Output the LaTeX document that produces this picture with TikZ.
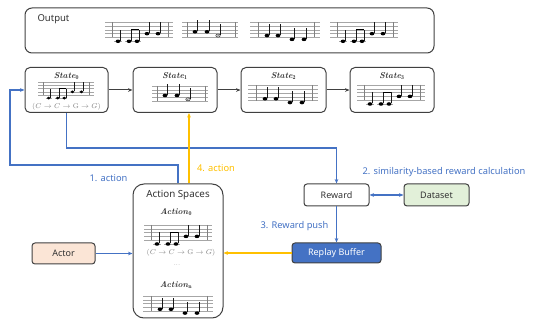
\documentclass[tikz,border=0pt]{standalone}
\usepackage{fontspec}
\setsansfont{Noto Sans}
\usetikzlibrary{arrows.meta,calc}
\definecolor{bl}{HTML}{4472C4}
\definecolor{yl}{HTML}{FFC000}
\definecolor{dk}{HTML}{404040}
\definecolor{txt}{HTML}{333333}
\definecolor{peach}{HTML}{FBE5D6}
\definecolor{lgreen}{HTML}{E2F0D9}
\definecolor{rbfill}{HTML}{4472C4}
\tikzset{
 box/.style={draw=dk, line width=1pt, rounded corners=5pt, inner sep=0pt, text=txt},
 bln/.style={draw=bl, line width=1.05pt, -{Stealth[length=4.5pt,width=3.6pt]}},
 yln/.style={draw=yl, line width=1.3pt, -{Stealth[length=4.5pt,width=3.8pt]}},
 dkln/.style={draw=dk, line width=1pt, -{Stealth[length=4.5pt,width=3.6pt]}},
 staffl/.style={draw=black!35, line width=0.5pt},
 barl/.style={draw=black!50, line width=0.5pt},
 stemc/.style={draw=black!90, line width=0.55pt},
 lbl/.style={font=\sffamily\fontsize{9.3}{11}\selectfont},
 boxt/.style={font=\sffamily\fontsize{9}{11}\selectfont},
 stt/.style={font=\fontsize{8.5}{9}\selectfont, text=txt},
}
\newcommand\mzlines[1]{\foreach \k in {0,...,4}{\draw[staffl] (0,{\k*3.8}) -- (#1,{\k*3.8});}}
\newcommand\mzbars[2]{\draw[barl] (#1,0) -- (#1,15.2); \draw[barl] (#2,0) -- (#2,15.2);}
\newcommand\mzq[2]{\fill[black] (#1,#2) ellipse [x radius=2.4, y radius=1.75];
 \draw[stemc] ({#1+2.1},{#2-0.6}) -- ({#1+2.1},{#2-11.5});}
\newcommand\mzh[2]{\draw[black!75, line width=0.6pt] (#1,#2) ellipse [x radius=2.2, y radius=1.5];
 \draw[black!60, line width=0.5pt] ({#1-1.6},{#2+1.2}) -- ({#1+1.6},{#2-1.2});
 \draw[stemc] ({#1+2.1},{#2-0.6}) -- ({#1+2.1},{#2-11.5});}
\newcommand\mzledger[1]{\draw[staffl] ({#1-3.8},19) -- ({#1+3.8},19);}
\newcommand\mzPA[3]{\begin{scope}[shift={(#1,#2)},scale=#3]
 \mzlines{68}\mzbars{7}{63}
 \mzledger{13}\mzledger{24}\mzledger{32}
 \mzq{13}{19}\mzq{24}{19}\mzq{32}{19}\mzq{42}{11.4}\mzq{53}{11.4}
 \draw[black,line width=1.3pt] (25.8,7.5) -- (34.4,7.5);
\end{scope}}
\newcommand\mzPB[3]{\begin{scope}[shift={(#1,#2)},scale=#3]
 \mzlines{56}\mzbars{5}{53}
 \mzq{13}{9.5}\mzq{25}{9.5}\mzh{36}{13.3}
\end{scope}}
\newcommand\mzPC[3]{\begin{scope}[shift={(#1,#2)},scale=#3]
 \mzlines{70}\mzbars{8}{64}
 \mzq{17}{13.3}\mzq{28}{13.3}\mzq{42}{17.1}\mzq{54}{17.1}
\end{scope}}
\begin{document}
\begin{tikzpicture}[x=1pt,y=-1pt,font=\sffamily]
\useasboundingbox (0,0) rectangle (533,320);
% output box
\node[box, minimum width=409pt, minimum height=45pt, rounded corners=7pt] (out) at (229.5,30.5) {};
\node[anchor=west, text=txt, font=\sffamily\fontsize{9.5}{11}\selectfont] (outt) at (34,19) {Output};
\mzPA{105}{22.3}{1}
\mzPB{182}{22.3}{1}
\mzPC{250}{22.3}{1}
\mzPA{330}{22.3}{1}
% states
\node[box, minimum width=83pt, minimum height=45pt] (s0) at (66.5,90) {};
\node[box, minimum width=84pt, minimum height=45pt] (s1) at (175,90) {};
\node[box, minimum width=85pt, minimum height=45pt] (s2) at (283.5,90) {};
\node[box, minimum width=84pt, minimum height=45pt] (s3) at (392,90) {};
\node[stt] (t0) at (66.5,76) {\textbf{\textit{State}}$_{\mathbf{0}}$};
\node[stt] (t1) at (175,76) {\textbf{\textit{State}}$_{\mathbf{1}}$};
\node[stt] (t2) at (283.5,76) {\textbf{\textit{State}}$_{\mathbf{2}}$};
\node[stt] (t3) at (392,76) {\textbf{\textit{State}}$_{\mathbf{3}}$};
\mzPA{38}{82.5}{0.82}
\node[text=black!50, font=\fontsize{6.8}{7}\selectfont] (f0) at (66.5,106.5) {$(C\rightarrow C\rightarrow \mathrm{G}\rightarrow G)$};
\mzPB{152}{86}{1}
\mzPC{248}{85.5}{1}
\mzPA{357}{85}{1}
\draw[dkln] (s0) -- (s1);
\draw[dkln] (s1) -- (s2);
\draw[dkln] (s2) -- (s3);
% lower nodes
\node[box, minimum width=90pt, minimum height=134pt, rounded corners=11pt] (as) at (178,251) {};
\node[text=txt, font=\sffamily\fontsize{9.8}{11}\selectfont] (ast) at (178,195) {Action Spaces};
\node[stt] (a0) at (176,212) {\textbf{\textit{Action}}$_{\mathbf{0}}$};
\mzPA{144}{225}{1}
\node[text=black!50, font=\fontsize{6.8}{7}\selectfont] (fa) at (181,253) {$(C\rightarrow C\rightarrow \mathrm{G}\rightarrow G)$};
\node[text=black!50, font=\fontsize{6}{7}\selectfont] (dots) at (177,265) {...};
\node[stt] (an) at (176,285) {\textbf{\textit{Action}}$_{\mathbf{n}}$};
\mzPC{143}{296}{1}
\node[box, boxt, fill=peach, minimum width=63pt, minimum height=21pt, rounded corners=3pt] (actor) at (63.5,253.5) {Actor};
\node[box, boxt, minimum width=65pt, minimum height=22pt, rounded corners=3pt] (reward) at (336.5,195) {Reward};
\node[box, boxt, fill=lgreen, minimum width=65pt, minimum height=22pt, rounded corners=3pt] (dataset) at (436.5,195) {Dataset};
\node[box, boxt, fill=rbfill, text=white, minimum width=89pt, minimum height=20pt, rounded corners=3pt] (rb) at (336.5,253) {\textbf{Replay Buffer}};
% connectors
\coordinate (c1) at (10,165);
\draw[bln] (as.north) |- (c1) |- (s0.west);
\draw[bln] (s0.south) -- ++(0,35) -| (reward.north);
\draw[yln] ([xshift=11pt]as.north) -- ([xshift=11pt]as.north |- s1.south);
\draw[bl, line width=1.05pt, {Stealth[length=4.5pt,width=3.6pt]}-{Stealth[length=4.5pt,width=3.6pt]}] (reward) -- (dataset);
\draw[bln] (reward) -- (rb);
\draw[yln] (rb.west) -- (rb.west -| as.east);
\draw[bln] (actor.east) -- (actor.east -| as.west);
% labels
\node[lbl, text=bl] (l1) at (108.5,178) {1. action};
\node[lbl, text=yl] (l4) at (216,168) {4. action};
\node[lbl, text=bl] (l2) at (444,172) {2. similarity-based reward calculation};
\node[lbl, text=bl] (l3) at (294.5,226) {3. Reward push};
\end{tikzpicture}
\end{document}
